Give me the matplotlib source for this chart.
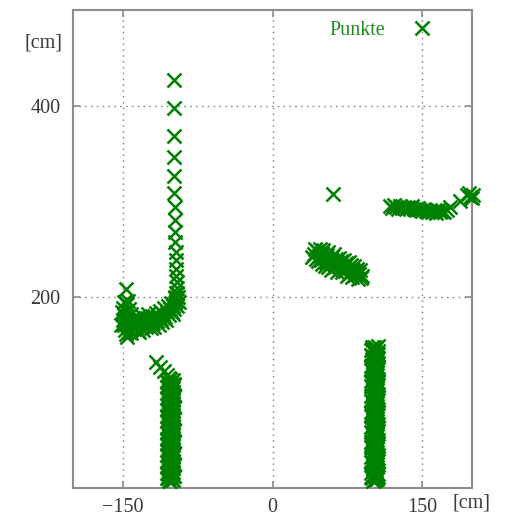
import matplotlib
matplotlib.use("Agg")
import matplotlib.pyplot as plt

# --- measured points [cm] ---
# vertical run of points above the curl
col_x = [-99, -99, -99, -99, -99, -99, -98, -98, -98, -98, -97, -97, -97, -97, -96, -96, -97, -98]
col_y = [427, 397, 368, 346, 326, 309, 294, 280, 268, 257, 247, 238, 229, 222, 215, 209, 204, 199]

# curled group at the left
curl_x = [-147, -149, -146, -150, -147, -144, -149, -146, -142, -150, -147, -143, -149, -145, -141,
          -148, -144, -139, -147, -138, -136, -140,
          -134, -132, -130, -128, -126, -124, -122, -120, -118, -116, -114, -112, -110, -108, -106,
          -104, -103, -101, -100, -99, -98, -97, -96, -95, -94,
          -130, -122, -114, -134,
          -145, -151, -148, -152, -146, -142, -137, -135, -131, -127, -125, -121, -119, -117,
          -113, -111, -109, -107, -105, -102, -100, -98, -96]
curl_y = [208, 195, 192, 188, 185, 187, 181, 179, 182, 176, 173, 175, 170, 168, 171,
          165, 163, 166, 161, 174, 178, 178,
          172, 176, 170, 174, 178, 172, 176, 173, 178, 175, 180, 177, 182, 179, 184,
          181, 187, 184, 190, 187, 193, 196, 190, 200, 195,
          165, 167, 171, 163,
          196, 184, 178, 170, 158, 162, 168, 164, 180, 168, 182, 180, 168, 183,
          185, 174, 188, 176, 190, 194, 182, 200, 204]

# left leg: top edge, then two interleaved passes down to the floor
lleg_top_x = [-117, -113, -109, -106, -104]
lleg_top_y = [132, 127, 122, 118, 115]

lleg_a_x = [-104, -100, -106, -102, -99, -105, -101, -103, -104, -100, -106, -102, -99, -105, -101, -103,
            -104, -100, -106, -102, -99, -105, -101, -103, -104, -100, -106, -102, -99, -105, -101, -103,
            -104, -100, -106, -102, -99, -105, -101, -103, -104, -100, -106, -102, -99, -105, -101, -103,
            -104, -100, -106, -102, -99, -105, -101, -103, -104, -100, -106, -102, -99, -105, -101, -103,
            -104, -100, -106, -102, -99, -105, -101, -103]
lleg_a_y = [7, 8.5, 10, 11.5, 13, 14.5, 16, 17.5, 19, 20.5, 22, 23.5, 25, 26.5, 28, 29.5,
            31, 32.5, 34, 35.5, 37, 38.5, 40, 41.5, 43, 44.5, 46, 47.5, 49, 50.5, 52, 53.5,
            55, 56.5, 58, 59.5, 61, 62.5, 64, 65.5, 67, 68.5, 70, 71.5, 73, 74.5, 76, 77.5,
            79, 80.5, 82, 83.5, 85, 86.5, 88, 89.5, 91, 92.5, 94, 95.5, 97, 98.5, 100, 101.5,
            103, 104.5, 106, 107.5, 109, 110.5, 112, 113.5]

lleg_b_x = [-103, -101, -105, -99, -102, -106, -100, -104, -103, -101, -105, -99, -102, -106, -100, -104,
            -103, -101, -105, -99, -102, -106, -100, -104, -103, -101, -105, -99, -102, -106, -100, -104,
            -103, -101, -105, -99, -102, -106, -100, -104, -103, -101, -105, -99, -102, -106, -100, -104,
            -103, -101, -105, -99, -102, -106, -100, -104, -103, -101, -105, -99, -102, -106, -100, -104,
            -103, -101, -105, -99, -102, -106, -100, -104]
lleg_b_y = [7.75, 9.25, 10.75, 12.25, 13.75, 15.25, 16.75, 18.25, 19.75, 21.25, 22.75, 24.25, 25.75, 27.25, 28.75, 30.25,
            31.75, 33.25, 34.75, 36.25, 37.75, 39.25, 40.75, 42.25, 43.75, 45.25, 46.75, 48.25, 49.75, 51.25, 52.75, 54.25,
            55.75, 57.25, 58.75, 60.25, 61.75, 63.25, 64.75, 66.25, 67.75, 69.25, 70.75, 72.25, 73.75, 75.25, 76.75, 78.25,
            79.75, 81.25, 82.75, 84.25, 85.75, 87.25, 88.75, 90.25, 91.75, 93.25, 94.75, 96.25, 97.75, 99.25, 100.75, 102.25,
            103.75, 105.25, 106.75, 108.25, 109.75, 111.25, 112.75, 114.25]

# right leg: two interleaved passes
rleg_a_x = [101, 105, 99, 103, 106, 100, 104, 102, 101, 105, 99, 103, 106, 100, 104, 102,
            101, 105, 99, 103, 106, 100, 104, 102, 101, 105, 99, 103, 106, 100, 104, 102,
            101, 105, 99, 103, 106, 100, 104, 102, 101, 105, 99, 103, 106, 100, 104, 102,
            101, 105, 99, 103, 106, 100, 104, 102, 101, 105, 99, 103, 106, 100, 104, 102,
            101, 105, 99, 103, 106, 100, 104, 102, 100, 106]
rleg_a_y = [7, 9, 11, 13, 15, 17, 19, 21, 23, 25, 27, 29, 31, 33, 35, 37,
            39, 41, 43, 45, 47, 49, 51, 53, 55, 57, 59, 61, 63, 65, 67, 69,
            71, 73, 75, 77, 79, 81, 83, 85, 87, 89, 91, 93, 95, 97, 99, 101,
            103, 105, 107, 109, 111, 113, 115, 117, 119, 121, 123, 125, 127, 129, 131, 133,
            135, 137, 139, 141, 143, 145, 146, 147, 148, 149]

rleg_b_x = [103, 100, 106, 102, 99, 104, 101, 105, 103, 100, 106, 102, 99, 104, 101, 105,
            103, 100, 106, 102, 99, 104, 101, 105, 103, 100, 106, 102, 99, 104, 101, 105,
            103, 100, 106, 102, 99, 104, 101, 105, 103, 100, 106, 102, 99, 104, 101, 105,
            103, 100, 106, 102, 99, 104, 101, 105, 103, 100, 106, 102, 99, 104, 101, 105,
            103, 100, 106, 102, 99, 104]
rleg_b_y = [8, 10, 12, 14, 16, 18, 20, 22, 24, 26, 28, 30, 32, 34, 36, 38,
            40, 42, 44, 46, 48, 50, 52, 54, 56, 58, 60, 62, 64, 66, 68, 70,
            72, 74, 76, 78, 80, 82, 84, 86, 88, 90, 92, 94, 96, 98, 100, 102,
            104, 106, 108, 110, 112, 114, 116, 118, 120, 122, 124, 126, 128, 130, 132, 134,
            136, 138, 140, 142, 144, 146]

# middle group
mid_x = [61,
         42, 44, 45, 47, 49, 50, 52, 54, 55, 57, 58, 60, 61, 63, 64, 66, 68, 69, 71, 73,
         74, 76, 78, 79, 81, 83, 85, 87, 89, 86, 48, 53, 59, 70, 80,
         40, 43, 46, 51, 56, 62, 67, 72, 77, 82, 84, 88, 90, 65, 75, 56, 50]
mid_y = [308,
         245, 240, 248, 243, 238, 246, 241, 236, 244, 239, 233, 242, 236, 231, 240, 234, 229, 237, 232, 227,
         235, 230, 225, 233, 228, 223, 229, 224, 220, 219, 250, 232, 228, 226, 221,
         242, 250, 237, 249, 247, 245, 241, 238, 236, 232, 226, 228, 222, 226, 222, 231, 234]

# right group
right_x = [118, 120, 122, 124, 126, 128, 130, 132, 134, 136, 138, 140, 142, 144, 146, 148,
           150, 152, 154, 156, 158, 160, 162, 164, 166, 168, 170, 172, 175,
           178, 188, 195, 198, 201, 197, 200]
right_y = [295, 293, 296, 294, 292, 295, 293, 294, 292, 294, 293, 295, 292, 291, 293, 291,
           290, 292, 290, 289, 291, 289, 290, 288, 291, 289, 290, 289, 291,
           294, 300, 307, 304, 306, 309, 303]

# --- figure ---
SERIF = ["Liberation Serif", "DejaVu Serif"]
plt.rcParams["font.family"] = SERIF
GREEN = "#008000"
TXT = "#3a3a3a"
FRAME = "#8c8c8c"

fig = plt.figure(figsize=(5.08, 5.17), dpi=100)
ax = fig.add_axes([73 / 508, 1 - 488 / 517, 399 / 508, 478 / 517])

xs = (col_x + curl_x + lleg_top_x + lleg_a_x + lleg_b_x
      + rleg_a_x + rleg_b_x + mid_x + right_x)
ys = (col_y + curl_y + lleg_top_y + lleg_a_y + lleg_b_y
      + rleg_a_y + rleg_b_y + mid_y + right_y)
ax.plot(xs, ys, linestyle="none", marker="x", ms=10, mew=1.8, color=GREEN,
        label="Punkte", clip_on=False, zorder=3)

ax.set_xlim(-200, 200)
ax.set_ylim(0, 500)
ax.set_xticks([-150, 0, 150])
ax.set_yticks([200, 400])
ax.grid(True, color="#8a8a8a", linestyle=(0, (1.2, 3.0)), linewidth=1.0)

for s in ax.spines.values():
    s.set_color(FRAME)
    s.set_linewidth(1.5)
ax.tick_params(direction="in", length=5, width=1.2, color=FRAME,
               top=True, right=True, labelsize=14.5, labelcolor=TXT)
ax.tick_params(axis="x", pad=7)
ax.tick_params(axis="y", pad=9)

fig.text(44 / 508, 1 - 43 / 517, "[cm]", ha="center", va="center",
         fontsize=14.5, color=TXT)
fig.text(472 / 508, 1 - 503 / 517, "[cm]", ha="center", va="center",
         fontsize=14.5, color=TXT)

leg = ax.legend(loc="center", bbox_to_anchor=(0.784, 0.958), frameon=False,
                markerfirst=False, fontsize=14.5, borderpad=0,
                handletextpad=0.8, handlelength=2.0)
for t in leg.get_texts():
    t.set_color("#1f8a1f")

fig.savefig("out.png", dpi=100)
